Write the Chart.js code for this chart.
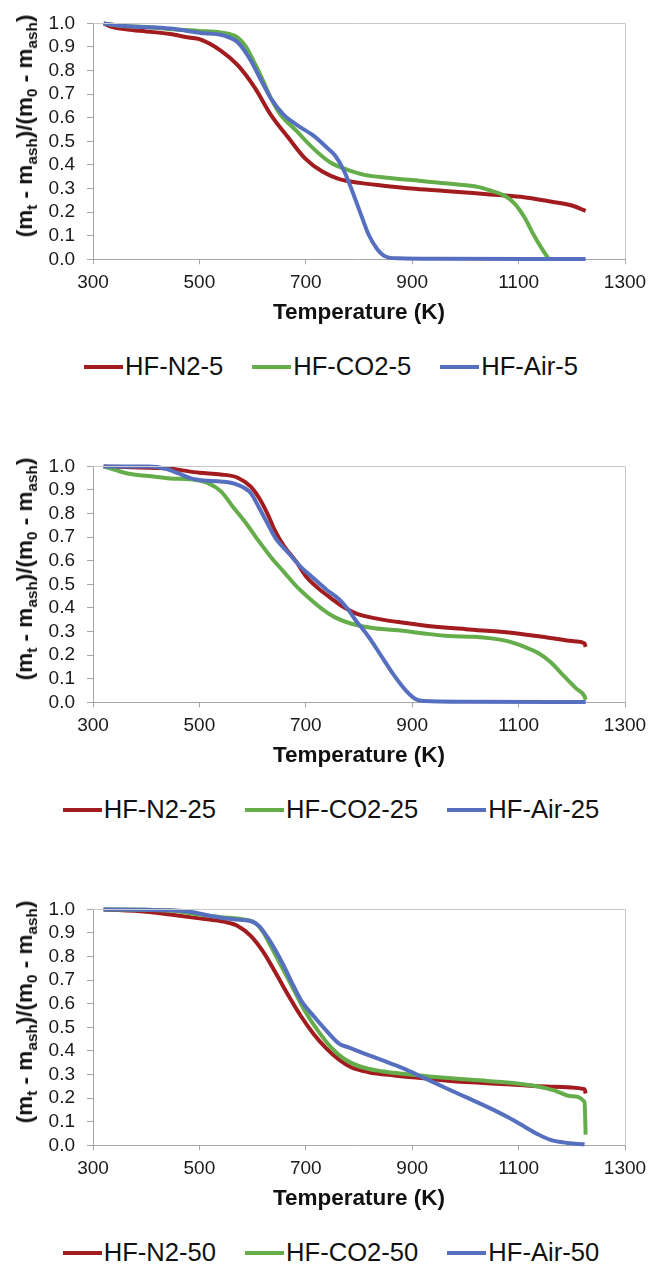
<!DOCTYPE html>
<html>
<head>
<meta charset="utf-8">
<script src="https://cdn.jsdelivr.net/npm/chart.js@4.4.0/dist/chart.umd.min.js"></script>
<style>
  body { margin: 0; background: #fff; width: 664px; height: 1264px; position: relative; overflow: hidden;
         font-family: "Liberation Sans", Arial, sans-serif; color: #111; }
  .panel { position: absolute; left: 0; width: 664px; height: 420px; }
  .panel canvas { position: absolute; left: 0; top: 0; }
  .ytitle { position: absolute; left: 25px; top: 126px; transform: translate(-50%, -50%) rotate(-90deg);
            white-space: nowrap; font-weight: bold; font-size: 22.5px; }
  .ytitle sub { font-size: 0.68em; vertical-align: -0.3em; line-height: 0; }
  .legend { position: absolute; top: 352px; left: 0; width: 662px; display: flex; justify-content: center; gap: 29px; }
  .legend .item { display: flex; align-items: center; font-size: 25.6px; white-space: nowrap; }
  .legend .swatch { display: inline-block; width: 39px; height: 4px; margin-right: 2px; }
</style>
</head>
<body>
<div id="charts"></div>
<script>
// temperatures (K) and normalised mass (m_t - m_ash)/(m_0 - m_ash)

// --- heating rate 5 ---
const n2_5_T  = [320, 335, 365, 400, 445, 480, 500, 540, 572, 604, 635, 667, 699, 731, 763, 802, 842, 898, 961, 1041, 1104, 1160, 1200, 1226];
const n2_5_V  = [1.0, 0.985, 0.974, 0.966, 0.955, 0.94, 0.933, 0.885, 0.823, 0.728, 0.61, 0.516, 0.427, 0.372, 0.34, 0.324, 0.313, 0.30, 0.29, 0.276, 0.265, 0.245, 0.228, 0.205];
const co2_5_T = [320, 350, 400, 450, 500, 540, 556, 572, 588, 604, 620, 635, 651, 683, 715, 747, 779, 810, 858, 922, 985, 1025, 1049, 1073, 1093, 1112, 1128, 1144, 1157];
const co2_5_V = [1.0, 0.99, 0.985, 0.975, 0.968, 0.962, 0.955, 0.94, 0.90, 0.83, 0.755, 0.68, 0.618, 0.543, 0.468, 0.409, 0.379, 0.358, 0.345, 0.331, 0.317, 0.306, 0.29, 0.27, 0.235, 0.174, 0.105, 0.044, 0.0];
const air_5_T = [320, 365, 445, 500, 548, 572, 596, 612, 635, 659, 683, 715, 739, 755, 771, 786, 802, 818, 834, 850, 874, 950, 1226];
const air_5_V = [1.0, 0.988, 0.978, 0.96, 0.947, 0.92, 0.845, 0.776, 0.68, 0.611, 0.57, 0.523, 0.475, 0.44, 0.379, 0.297, 0.2, 0.105, 0.044, 0.012, 0.004, 0.002, 0.001];

// --- heating rate 25 ---
const n2_25_T  = [320, 360, 445, 500, 540, 572, 596, 612, 628, 643, 659, 683, 699, 723, 747, 771, 794, 826, 874, 922, 1001, 1081, 1144, 1208, 1224, 1226];
const n2_25_V  = [1.0, 0.997, 0.99, 0.973, 0.966, 0.952, 0.915, 0.867, 0.799, 0.723, 0.662, 0.593, 0.538, 0.484, 0.442, 0.404, 0.377, 0.358, 0.34, 0.326, 0.31, 0.296, 0.278, 0.258, 0.25, 0.235];
const co2_25_T = [320, 365, 405, 445, 484, 516, 540, 564, 588, 612, 635, 659, 683, 707, 731, 755, 786, 826, 882, 922, 969, 1017, 1049, 1081, 1112, 1136, 1160, 1184, 1208, 1224, 1226];
const co2_25_V = [1.0, 0.97, 0.959, 0.949, 0.945, 0.929, 0.895, 0.826, 0.758, 0.682, 0.614, 0.552, 0.49, 0.44, 0.395, 0.36, 0.333, 0.315, 0.303, 0.292, 0.281, 0.278, 0.271, 0.258, 0.234, 0.21, 0.171, 0.114, 0.059, 0.025, 0.01];
const air_25_T = [320, 405, 437, 461, 484, 508, 540, 572, 596, 612, 628, 643, 667, 691, 715, 739, 763, 779, 794, 818, 842, 866, 890, 906, 922, 1000, 1226];
const air_25_V = [1.0, 1.0, 0.99, 0.97, 0.949, 0.94, 0.936, 0.922, 0.888, 0.826, 0.758, 0.696, 0.634, 0.573, 0.525, 0.477, 0.436, 0.395, 0.347, 0.278, 0.196, 0.114, 0.045, 0.014, 0.005, 0.002, 0.001];

// --- heating rate 50 ---
const n2_50_T  = [320, 400, 445, 500, 548, 572, 596, 620, 643, 667, 691, 715, 739, 763, 786, 818, 866, 922, 1001, 1081, 1160, 1224, 1226];
const n2_50_V  = [1.0, 0.99, 0.978, 0.962, 0.947, 0.93, 0.889, 0.82, 0.732, 0.636, 0.547, 0.471, 0.41, 0.362, 0.33, 0.31, 0.296, 0.284, 0.268, 0.259, 0.248, 0.238, 0.22];
const co2_50_T = [320, 400, 445, 500, 540, 580, 604, 620, 635, 651, 675, 699, 723, 747, 771, 802, 842, 898, 961, 1041, 1097, 1136, 1168, 1200, 1224, 1226];
const co2_50_V = [1.0, 0.998, 0.995, 0.978, 0.967, 0.958, 0.944, 0.903, 0.841, 0.773, 0.67, 0.567, 0.485, 0.416, 0.368, 0.334, 0.314, 0.3, 0.286, 0.273, 0.262, 0.249, 0.232, 0.208, 0.184, 0.045];
const air_50_T = [320, 400, 445, 484, 524, 564, 596, 612, 628, 643, 659, 675, 691, 715, 739, 763, 779, 810, 842, 882, 922, 961, 1001, 1041, 1081, 1112, 1136, 1160, 1192, 1224];
const air_50_V = [1.0, 0.998, 0.996, 0.989, 0.971, 0.958, 0.951, 0.93, 0.882, 0.827, 0.759, 0.684, 0.615, 0.547, 0.485, 0.43, 0.416, 0.389, 0.362, 0.327, 0.286, 0.245, 0.204, 0.163, 0.118, 0.078, 0.047, 0.023, 0.01, 0.004];

const rates = ['5', '25', '50'];
const atmospheres = ['N2', 'CO2', 'Air'];
const xTicks = [300, 500, 700, 900, 1100, 1300];
const yTicks = [0.0, 0.1, 0.2, 0.3, 0.4, 0.5, 0.6, 0.7, 0.8, 0.9, 1.0];

const seriesData = [
  [[n2_5_T, n2_5_V], [co2_5_T, co2_5_V], [air_5_T, air_5_V]],
  [[n2_25_T, n2_25_V], [co2_25_T, co2_25_V], [air_25_T, air_25_V]],
  [[n2_50_T, n2_50_V], [co2_50_T, co2_50_V], [air_50_T, air_50_V]]
];

const colors = ['#A21B1E', '#64AD4A', '#5670BF'];
const panelTops = [0, 443, 886];
const axisGray = '#A6A6A6';
const fontFamily = '"Liberation Sans", Arial, sans-serif';
const tickFont = { family: fontFamily, size: 19 };

// top and right edges of the plot frame
const frame = {
  id: 'frame',
  afterDraw(chart) {
    const { ctx, chartArea: a } = chart;
    ctx.save();
    ctx.strokeStyle = '#C8C8C8';
    ctx.lineWidth = 1;
    ctx.beginPath();
    ctx.moveTo(a.left, Math.round(a.top) + 0.5);
    ctx.lineTo(Math.round(a.right) + 0.5, Math.round(a.top) + 0.5);
    ctx.lineTo(Math.round(a.right) + 0.5, a.bottom);
    ctx.stroke();
    ctx.restore();
  }
};

const root = document.getElementById('charts');

rates.forEach((rate, p) => {
  const panel = document.createElement('div');
  panel.className = 'panel';
  panel.style.top = panelTops[p] + 'px';
  root.appendChild(panel);

  const canvas = document.createElement('canvas');
  canvas.width = 664;
  canvas.height = 330;
  panel.appendChild(canvas);

  const yt = document.createElement('div');
  yt.className = 'ytitle';
  yt.innerHTML = '(m<sub>t</sub> - m<sub>ash</sub>)/(m<sub>0</sub> - m<sub>ash</sub>)';
  panel.appendChild(yt);

  const names = atmospheres.map(a => 'HF-' + a + '-' + rate);

  const legend = document.createElement('div');
  legend.className = 'legend';
  names.forEach((name, i) => {
    const item = document.createElement('div');
    item.className = 'item';
    item.innerHTML = '<span class="swatch" style="background:' + colors[i] + '"></span><span>' + name + '</span>';
    legend.appendChild(item);
  });
  panel.appendChild(legend);

  const datasets = names.map((name, i) => ({
    label: name,
    data: seriesData[p][i][0].map((t, k) => ({ x: t, y: seriesData[p][i][1][k] })),
    borderColor: colors[i],
    borderWidth: 4,
    pointRadius: 0,
    cubicInterpolationMode: 'monotone',
    borderJoinStyle: 'round',
    clip: false,
    order: 2 - i
  }));

  new Chart(canvas, {
    type: 'line',
    data: { datasets },
    options: {
      responsive: false,
      animation: false,
      layout: { padding: { top: 15.3, right: 39, left: 0, bottom: 0 } },
      plugins: { legend: { display: false }, tooltip: { enabled: false } },
      scales: {
        x: {
          type: 'linear',
          min: xTicks[0],
          max: xTicks[xTicks.length - 1],
          afterBuildTicks: s => { s.ticks = xTicks.map(v => ({ value: v })); },
          ticks: { font: tickFont, color: '#1a1a1a', padding: 7, maxRotation: 0, autoSkip: false,
                   callback: v => String(v) },
          grid: { drawOnChartArea: false, tickLength: 5, color: axisGray },
          border: { color: axisGray },
          title: {
            display: true,
            text: 'Temperature (K)',
            color: '#111',
            font: { family: fontFamily, size: 22.5, weight: 'bold' },
            padding: { top: 0, bottom: 4 }
          },
          afterFit: s => { s.height = 70.7; }
        },
        y: {
          min: 0,
          max: 1,
          afterBuildTicks: s => { s.ticks = yTicks.map(v => ({ value: v })); },
          ticks: { font: tickFont, color: '#1a1a1a', padding: 12, autoSkip: false,
                   callback: v => v.toFixed(1) },
          grid: { drawOnChartArea: false, tickLength: 6, color: axisGray },
          border: { color: axisGray },
          afterFit: s => { s.width = 93; }
        }
      }
    },
    plugins: [frame]
  });
});
</script>
</body>
</html>
